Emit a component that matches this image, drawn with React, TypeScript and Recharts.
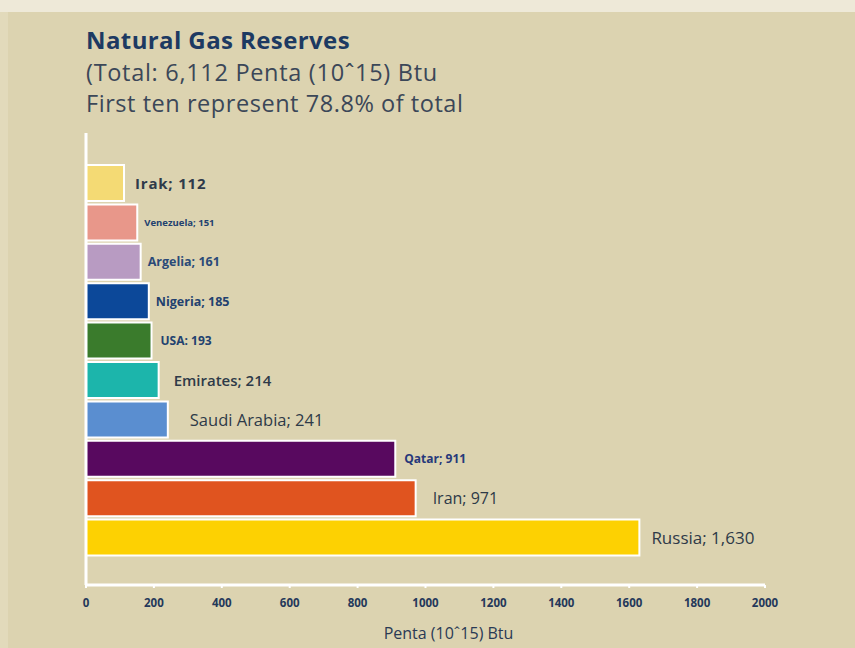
import React from 'react';
import { BarChart, Bar, XAxis, YAxis, Cell, LabelList, Label } from 'recharts';

const countries = ['Irak', 'Venezuela', 'Argelia', 'Nigeria', 'USA', 'Emirates', 'Saudi Arabia', 'Qatar', 'Iran', 'Russia'];
const reserves = [112, 151, 161, 185, 193, 214, 241, 911, 971, 1630];
const labelTexts = ['Irak; 112', 'Venezuela; 151', 'Argelia; 161', 'Nigeria; 185', 'USA: 193', 'Emirates; 214', 'Saudi Arabia; 241', 'Qatar; 911', 'Iran; 971', 'Russia; 1,630'];
const xTicks = [0, 200, 400, 600, 800, 1000, 1200, 1400, 1600, 1800, 2000];

const titleText = 'Natural Gas Reserves';
const subtitle1 = '(Total: 6,112 Penta (10\u02C615) Btu';
const subtitle2 = 'First ten represent 78.8% of total';
const xAxisTitle = 'Penta (10\u02C615) Btu';

// styles (kept apart from data)
const barColors = ['#f4da74', '#e8978a', '#b89bc2', '#0c4899', '#3a7b2c', '#1cb5ab', '#5a8ed0', '#58095f', '#e0541f', '#fdd102'];
const labelSizes = [15, 9.5, 12.5, 12.5, 12, 15, 16.5, 12, 16, 17];
const labelWeights = [700, 700, 700, 700, 700, 600, 400, 700, 500, 500];
const labelSpacing = [0.8, 0, 0, 0, 0, 0, 0, 0, 0, 0];
const labelColors = ['#2f3a4a', '#22416f', '#2a4a78', '#22416f', '#22416f', '#2e3a48', '#2e3a48', '#26387a', '#2e3a48', '#2e3a48'];
const labelGaps = [11, 7, 7, 7, 9, 15, 22, 9, 17, 12];

const data = countries.map((name, i) => ({ name, value: reserves[i] }));

const FONT = '"Open Sans", "Noto Sans", sans-serif';

const renderLabel = (props: any) => {
  const { x, y, width, height, index } = props;
  return (
    <text
      x={Number(x) + Number(width) + labelGaps[index]}
      y={Number(y) + Number(height) / 2}
      dominantBaseline="central"
      fontFamily={FONT}
      fontSize={labelSizes[index]}
      fontWeight={labelWeights[index]}
      letterSpacing={labelSpacing[index]}
      fill={labelColors[index]}
    >
      {labelTexts[index]}
    </text>
  );
};

const renderAxisTitle = (props: any) => {
  const vb = props.viewBox || {};
  return (
    <text
      x={Number(vb.x) + Number(vb.width) / 2 + 23}
      y={Number(vb.y) + Number(vb.height) - 9}
      textAnchor="middle"
      fontFamily={FONT}
      fontSize={16}
      fontWeight={500}
      fill="#2a3a55"
    >
      {xAxisTitle}
    </text>
  );
};

export default function App() {
  return (
    <div style={{ position: 'absolute', left: 0, top: 0, width: 855, height: 648, background: '#dcd3b0', overflow: 'hidden' }}>
      <div style={{ position: 'absolute', left: 0, top: 0, width: 855, height: 12, background: '#eee9d8' }} />
      <div style={{ position: 'absolute', left: 0, top: 12, width: 8, height: 636, background: '#e2dabb' }} />
      <div style={{ position: 'absolute', left: 86, top: 24, fontFamily: FONT, color: '#1d3a62', whiteSpace: 'nowrap' }}>
        <div style={{ fontSize: 24, fontWeight: 700, lineHeight: '32px', letterSpacing: 0.4 }}>{titleText}</div>
        <div style={{ fontSize: 23.5, fontWeight: 400, lineHeight: '32px', color: '#3b4758', letterSpacing: 0.7 }}>{subtitle1}</div>
        <div style={{ fontSize: 23.5, fontWeight: 400, lineHeight: '30px', color: '#3b4758', letterSpacing: 0.55 }}>{subtitle2}</div>
      </div>
      <div style={{ position: 'absolute', left: 0, top: 0 }}>
        <BarChart
          width={855}
          height={648}
          data={data}
          layout="vertical"
          margin={{ top: 133, right: 90, bottom: 0, left: 84 }}
        >
          <XAxis
            type="number"
            domain={[0, 2000]}
            ticks={xTicks}
            height={63}
            axisLine={{ stroke: '#ffffff', strokeWidth: 3 }}
            tickLine={{ stroke: '#ffffff', strokeWidth: 2 }}
            tickSize={3}
            tickMargin={11}
            tick={{ fontSize: 11.5, fontWeight: 700, fill: '#24385a', fontFamily: FONT }}
          >
            <Label content={renderAxisTitle} />
          </XAxis>
          <YAxis
            type="category"
            dataKey="name"
            width={2}
            tick={false}
            tickLine={false}
            axisLine={{ stroke: '#ffffff', strokeWidth: 3 }}
            padding={{ top: 30, bottom: 28 }}
          />
          <Bar dataKey="value" barSize={36} stroke="#ffffff" strokeWidth={2} isAnimationActive={false}>
            {data.map((d, i) => (
              <Cell key={d.name} fill={barColors[i]} />
            ))}
            <LabelList dataKey="value" content={renderLabel} />
          </Bar>
        </BarChart>
      </div>
    </div>
  );
}
